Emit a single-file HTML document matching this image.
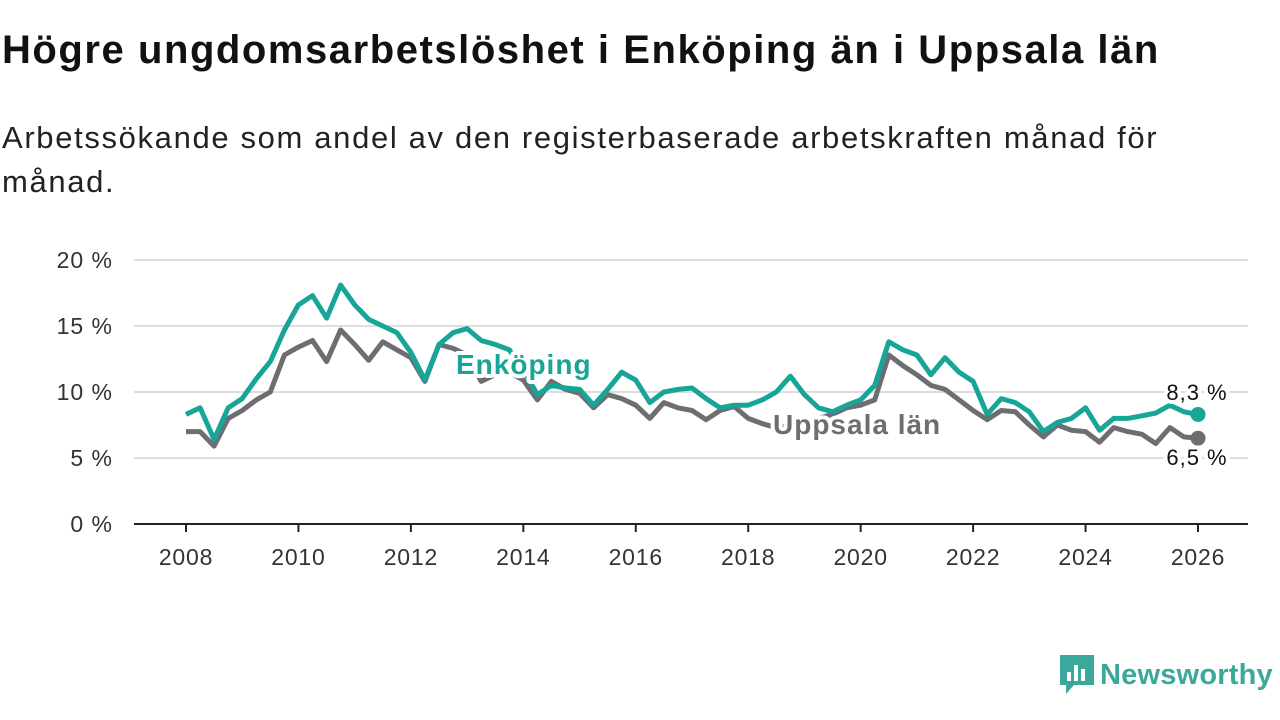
<!DOCTYPE html>
<html><head><meta charset="utf-8">
<style>
body{margin:0;width:1280px;height:720px;background:#fff;font-family:"Liberation Sans",sans-serif;overflow:hidden;position:relative}
h1{position:absolute;left:2px;top:28px;margin:0;font-size:40px;font-weight:bold;color:#111;letter-spacing:1.55px;white-space:nowrap}
p.sub{position:absolute;left:2px;top:116px;margin:0;font-size:31px;line-height:44px;color:#222;width:1200px;letter-spacing:1.65px}
svg{position:absolute;left:0;top:0}
</style></head><body>
<h1>Högre ungdomsarbetslöshet i Enköping än i Uppsala län</h1>
<p class="sub">Arbetssökande som andel av den registerbaserade arbetskraften månad för månad.</p>
<svg id="chart" width="1280" height="720"></svg>
<div style="position:absolute;left:1060px;top:655px;display:flex;align-items:center">
<svg width="34" height="40" style="position:static"><path d="M0 0H34V30H14L6 39V30H0Z" fill="#3aa99b"/><rect x="7" y="17" width="4" height="9" fill="#fff"/><rect x="14" y="10" width="4" height="16" fill="#fff"/><rect x="21" y="14" width="4" height="12" fill="#fff"/></svg>
<span style="margin-left:6px;font-size:29px;font-weight:bold;color:#3aa99b;letter-spacing:0.2px">Newsworthy</span></div>
<script>
const startYear = 2008;
const xTicks = [2008,2010,2012,2014,2016,2018,2020,2022,2024,2026];
const yTicks = [0,5,10,15,20];
const enkoping = [8.3,8.8,6.4,8.8,9.5,11,12.3,14.7,16.6,17.3,15.6,18.1,16.6,15.5,15,14.5,13,10.9,13.6,14.5,14.8,13.9,13.6,13.2,11.7,9.8,10.5,10.3,10.2,9,10.2,11.5,10.9,9.2,10,10.2,10.3,9.5,8.8,9,9,9.4,10,11.2,9.8,8.8,8.5,9,9.4,10.5,13.8,13.2,12.8,11.3,12.6,11.5,10.8,8.3,9.5,9.2,8.5,7,7.7,8,8.8,7.1,8,8,8.2,8.4,9,8.5,8.3];
const uppsala = [7,7,5.9,8,8.6,9.4,10,12.8,13.4,13.9,12.3,14.7,13.6,12.4,13.8,13.2,12.6,10.8,13.6,13.3,12.8,10.8,11.3,11.5,10.9,9.4,10.8,10.2,9.9,8.8,9.8,9.5,9,8,9.2,8.8,8.6,7.9,8.6,8.9,8,7.6,7.3,7.5,7.8,8,8.3,8.8,9,9.4,12.8,12,11.3,10.5,10.2,9.4,8.6,7.9,8.6,8.5,7.5,6.6,7.5,7.1,7,6.2,7.3,7,6.8,6.1,7.3,6.6,6.5];
const NS="http://www.w3.org/2000/svg";
const svg=document.getElementById('chart');
const X=y=>186+(y-2008)*(1198-186)/18;
const Y=v=>524-v*13.2;
function mk(t,a,txt){const e=document.createElementNS(NS,t);for(const k in a)e.setAttribute(k,a[k]);if(txt!==undefined)e.textContent=txt;svg.appendChild(e);return e;}
yTicks.forEach(v=>{
 const l=mk('line',{x1:134,x2:1248,y1:Y(v),y2:Y(v),stroke:v===0?'#222':'#ddd','stroke-width':2});
 
 
 const t=mk('text',{x:113,y:Y(v)+8,'text-anchor':'end','font-size':23,fill:'#333','letter-spacing':'1'},v+' %');
 
 
});
xTicks.forEach(yr=>{
 const l=mk('line',{x1:X(yr),x2:X(yr),y1:524,y2:532,stroke:'#222','stroke-width':2});
 
 
 const t=mk('text',{x:X(yr),y:565,'text-anchor':'middle','font-size':23,fill:'#333','letter-spacing':'0.8'},yr);
 
 
});
function series(arr,color,name){
 const d=arr.map((v,i)=>(i?'L':'M')+X(startYear+i*0.25).toFixed(1)+' '+Y(v).toFixed(1)).join(' ');
 const p=mk('path',{d,fill:'none',stroke:color,'stroke-width':5,'stroke-linejoin':'round'});
 
 
 const n=arr.length-1;
 const c=mk('circle',{cx:X(startYear+n*0.25),cy:Y(arr[n]),r:7.5,fill:color});
 
 
}
series(uppsala,'#6e6d72','uppsala');
series(enkoping,'#17a597','enkoping');
function label(x,y,txt,color,size,weight,name,anchor){
 const t=mk('text',{x,y,'font-size':size,'font-weight':weight,fill:color,stroke:'#fff','stroke-width':8,'paint-order':'stroke','stroke-linejoin':'round','text-anchor':anchor||'start','letter-spacing':'1'},txt);
 
 
}
label(456,374,'Enköping','#17a597',28,'bold','enkoping-label');
label(773,434,'Uppsala län','#6e6d72',28,'bold','uppsala-label');
label(1197,400,'8,3 %','#111',22,'normal','enkoping-end-value','middle');
label(1197,465,'6,5 %','#111',22,'normal','uppsala-end-value','middle');
</script>
</body></html>
